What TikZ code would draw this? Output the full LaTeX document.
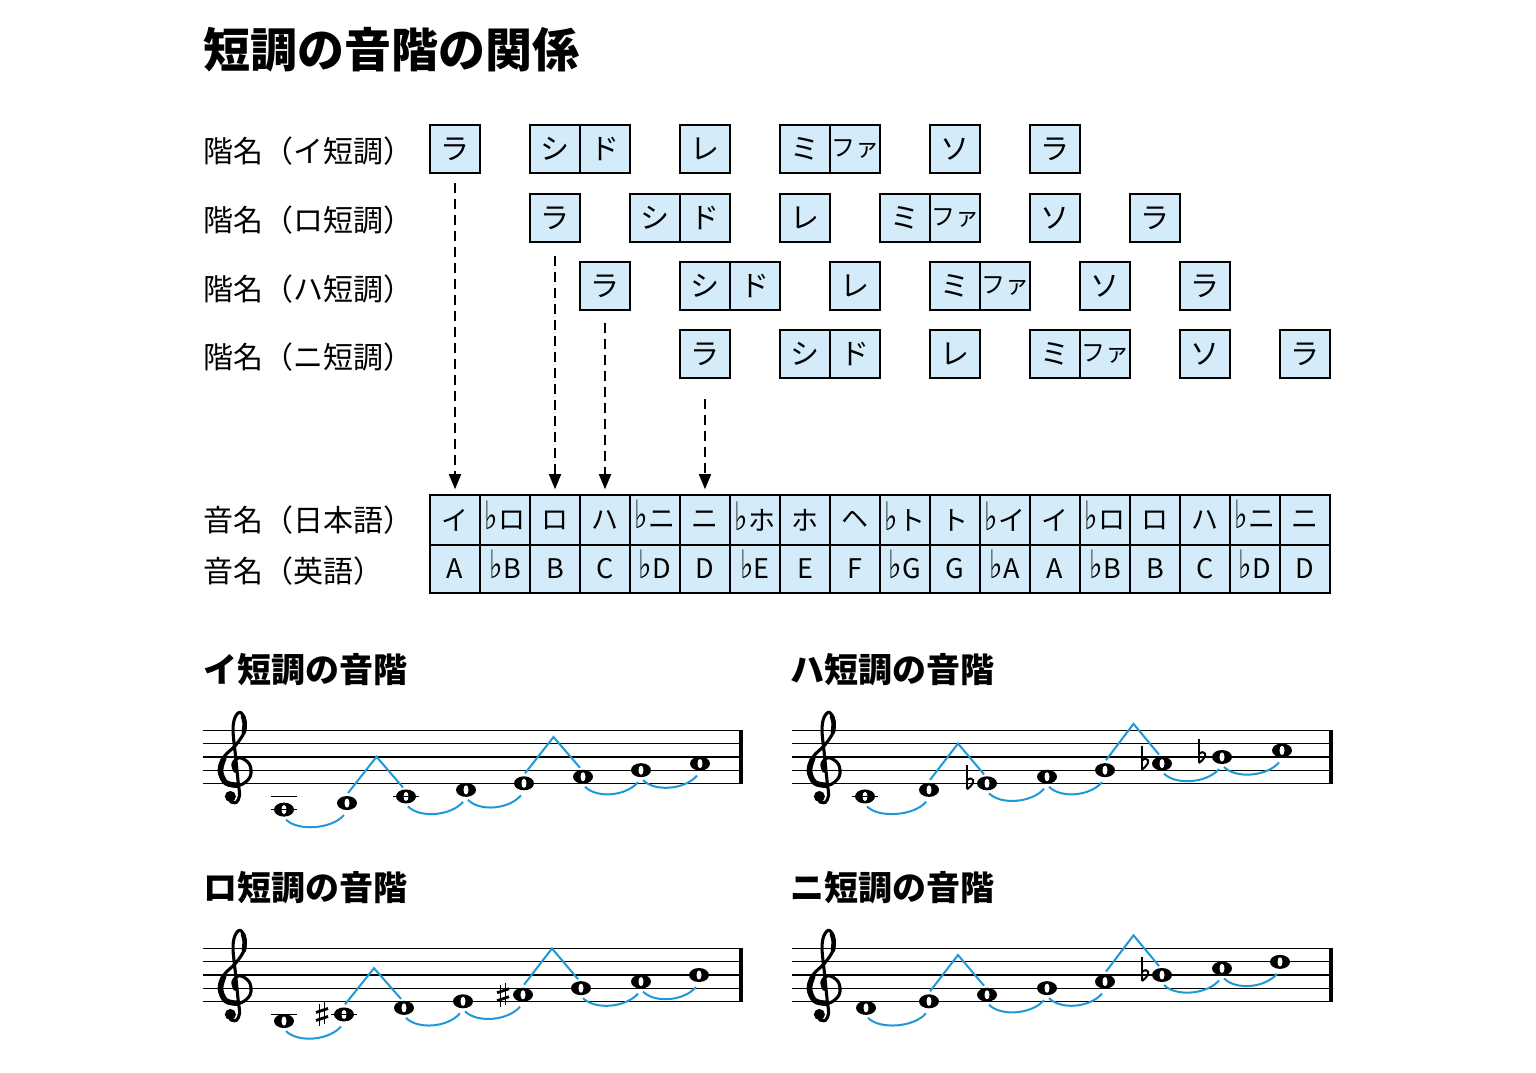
\documentclass[tikz,border=0pt]{standalone}
\usepackage{fontspec}
\setmainfont{Noto Sans CJK JP}
\newfontfamily\symf{DejaVu Sans}
\usetikzlibrary{arrows.meta,calc,shapes.geometric}
\definecolor{boxblue}{RGB}{212,236,249}
\definecolor{arcblue}{RGB}{29,153,216}
\newcommand\fl{\smash{\scalebox{1.05}[1.45]{\symf\bfseries ♭}}\kern0.5pt}
\newcommand\fa{{\fontsize{24}{26}\selectfont ファ}}
\newcommand\myclef[2]{%
 \begin{scope}[shift={(#1,#2)},x=13.15pt,y=13.15pt]
  \draw[line width=3.1pt, line cap=round, line join=round] plot[smooth, tension=0.6] coordinates {(0,-0.1) (-0.15,0.5) (0.35,0.95) (1.1,0.45) (1.15,-0.5) (0.35,-1.15) (-0.7,-0.95) (-1.2,-0.05) (-0.85,1.0) (0.05,1.9) (0.7,2.9) (0.75,3.8) (0.4,4.4) (0.0,4.0) (-0.15,3.0) (0.05,1.0) (0.25,-1.0) (0.35,-1.9) (0.1,-2.45) (-0.35,-2.4)};
  \draw[line width=5.5pt, line cap=round] plot[smooth, tension=0.6] coordinates {(0.2,-1.15) (-0.7,-0.95) (-1.1,-0.05) (-0.85,0.9)};
  \draw[line width=4.5pt, line cap=round] plot[smooth, tension=0.6] coordinates {(0.68,2.9) (0.73,3.6) (0.6,4.1)};
  \fill (-0.35,-2.0) circle (0.42);
 \end{scope}}
\newcommand\myflat[2]{%
 \begin{scope}[shift={([xshift=#2pt]#1.center)}]
  \draw[line width=1.3pt] (0,-18) -- (0,6);
  \draw[line width=2pt] (0,-3) .. controls (5,-8) and (11,-2) .. (0,6);
 \end{scope}}
\newcommand\mysharp[2]{%
 \begin{scope}[shift={([xshift=#2pt]#1.center)}]
  \draw[line width=1.2pt] (-2.5,-10) -- (-2.5,12) (2.5,-12) -- (2.5,10);
  \draw[line width=2.8pt] (-6,-2) -- (6,-6) (-6,6) -- (6,2);
 \end{scope}}
\newcommand\mystaff[3]{%
 \foreach \k in {0,...,4}{\draw[staffline] (#1,{#3+13.15*\k}) -- (#2,{#3+13.15*\k});}
 \draw[line width=4pt] ({#2-2},{#3-0.6}) -- ({#2-2},{#3+53.2});}
\begin{document}
\begin{tikzpicture}[x=1pt,y=-1pt,
  titlef/.style={font=\fontsize{47}{50}\selectfont\bfseries, anchor=west, inner sep=0pt},
  headf/.style={font=\fontsize{34}{38}\selectfont\bfseries, anchor=west, inner sep=0pt},
  labelf/.style={font=\fontsize{30}{34}\selectfont, anchor=west, inner sep=0pt},
  kbox/.style={draw, fill=boxblue, line width=1.6pt, minimum width=50pt, minimum height=48pt, inner sep=0pt, font=\fontsize{29}{30}\selectfont},
  cellt/.style={draw, fill=boxblue, line width=1.6pt, minimum width=50pt, minimum height=50pt, inner sep=0pt, font=\fontsize{27}{28}\selectfont},
  cellb/.style={draw, fill=boxblue, line width=1.6pt, minimum width=50pt, minimum height=48pt, inner sep=0pt, font=\fontsize{27}{28}\selectfont},
  darrow/.style={line width=1.6pt, dash pattern=on 10pt off 6pt, -{Triangle[width=12pt,length=15pt]}},
  staffline/.style={line width=1.2pt},
  wnote/.style={ellipse, fill=black, inner sep=0pt, minimum width=20pt, minimum height=14pt,
    path picture={\fill[white, rotate around={-35:(path picture bounding box.center)}] (path picture bounding box.center) ellipse [x radius=2.5pt, y radius=4.6pt];}},
  ledger/.style={line width=1.4pt},
  bluearc/.style={draw=arcblue, line width=2pt}
]
\fill[white] (0,0) rectangle (1536,1072);
\useasboundingbox (0,0) rectangle (1536,1072);

\node[titlef] (title) at (203,50) {短調の音階の関係};

\node[labelf] (l1) at (203,151) {階名（イ短調）};
\node[labelf] (l2) at (203,220) {階名（ロ短調）};
\node[labelf] (l3) at (203,289) {階名（ハ短調）};
\node[labelf] (l4) at (203,357) {階名（ニ短調）};
\node[labelf] (l5) at (203,520) {音名（日本語）};
\node[labelf] (l6) at (203,571) {音名（英語）};

\foreach \rn/\yy/\off in {i/149/0, ro/218/2, ha/286/3, ni/354/5}{
  \foreach \cc/\tx [count=\j] in {0/ラ,2/シ,3/ド,5/レ,7/ミ,8/\fa,10/ソ,12/ラ}
    \node[kbox] (\rn\j) at ({455+50*(\cc+\off)},\yy) {\tx};
}

\foreach \tx [count=\n from 0] in {イ,\fl ロ,ロ,ハ,\fl ニ,ニ,\fl ホ,ホ,ヘ,\fl ト,ト,\fl イ,イ,\fl ロ,ロ,ハ,\fl ニ,ニ}
  \node[cellt] (t\n) at ({455+50*\n},520) {\tx};
\foreach \tx [count=\n from 0] in {A,\fl B,B,C,\fl D,D,\fl E,E,F,\fl G,G,\fl A,A,\fl B,B,C,\fl D,D}
  \node[cellb] (e\n) at ({455+50*\n},569) {\tx};

\draw[darrow, shorten <=9pt, shorten >=5pt] (i1.south) -- (t0.north);
\draw[darrow, shorten <=13pt, shorten >=5pt] (ro1.south) -- (t2.north);
\draw[darrow, shorten <=12pt, shorten >=5pt] (ha1.south) -- (t3.north);
\draw[darrow, shorten <=20pt, shorten >=5pt] (ni1.south) -- (t5.north);

\node[headf] (h1) at (203,670) {イ短調の音階};
\node[headf] (h2) at (790,670) {ハ短調の音階};
\node[headf] (h3) at (203,888) {ロ短調の音階};
\node[headf] (h4) at (790,888) {ニ短調の音階};

\mystaff{203}{743}{730.7}
\mystaff{792}{1333}{730.7}
\mystaff{203}{743}{948.7}
\mystaff{792}{1333}{948.7}
\myclef{235}{770.15}
\myclef{824}{770.15}
\myclef{235}{988.15}
\myclef{824}{988.15}

\foreach \xx/\p [count=\n] in {284/-4,347/-3,406/-2,466/-1,524/0,583/1,641/2,700/3}
  \node[wnote] (ia\n) at (\xx,{783.3-6.575*\p}) {};
\foreach \xx/\p [count=\n] in {865/-2,929/-1,987/0,1047/1,1105/2,1162/3,1222/4,1282/5}
  \node[wnote] (hc\n) at (\xx,{783.3-6.575*\p}) {};
\foreach \xx/\p [count=\n] in {284/-3,344/-2,404/-1,463/0,523/1,581/2,641/3,699/4}
  \node[wnote] (rb\n) at (\xx,{1001.3-6.575*\p}) {};
\foreach \xx/\p [count=\n] in {866/-1,929/0,987/1,1047/2,1105/3,1162/4,1222/5,1280/6}
  \node[wnote] (nd\n) at (\xx,{1001.3-6.575*\p}) {};

\draw[ledger] ([xshift=-13pt]ia1.center) -- ([xshift=13pt]ia1.center);
\draw[ledger] ([xshift=-13pt,yshift=13.15pt]ia1.center) -- ([xshift=13pt,yshift=13.15pt]ia1.center);
\draw[ledger] ([xshift=-13pt]ia3.center) -- ([xshift=13pt]ia3.center);
\draw[ledger] ([xshift=-13pt]hc1.center) -- ([xshift=13pt]hc1.center);
\draw[ledger] ([xshift=-13pt,yshift=6.575pt]rb1.center) -- ([xshift=13pt,yshift=6.575pt]rb1.center);
\draw[ledger] ([xshift=-13pt]rb2.center) -- ([xshift=13pt]rb2.center);

\myflat{hc3}{-20}
\myflat{hc6}{-20}
\myflat{hc7}{-23}
\myflat{nd6}{-20}
\mysharp{rb2}{-22}
\mysharp{rb5}{-20}

\foreach \sc in {ia,hc,rb,nd}{
  \foreach \a/\b in {1/2,3/4,4/5,6/7,7/8}
    \draw[bluearc] ([shift={(2,10)}]\sc\a.center) .. controls +(12,12) and +(-12,14) .. ([shift={(-3,12)}]\sc\b.center);
  \foreach \a/\b in {2/3,5/6}
    \draw[bluearc, line join=miter] ([shift={(1,-10)}]\sc\a.center) -- ($(\sc\a.center)!0.5!(\sc\b.center)+(0,-43)$) -- ([shift={(-3,-9)}]\sc\b.center);
}
\end{tikzpicture}
\end{document}
